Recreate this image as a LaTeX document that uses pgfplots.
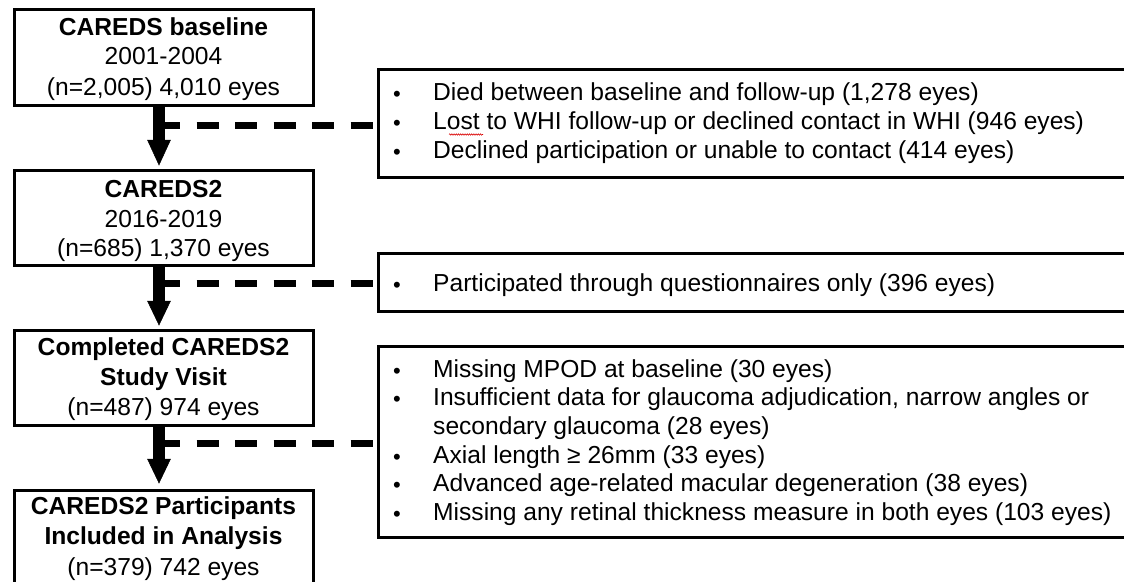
\documentclass[border=0pt]{standalone}
\usepackage{pgfplots}
\pgfplotsset{compat=1.18}
\usepackage{fontspec}
\setmainfont{Liberation Sans}
\usetikzlibrary{decorations.pathmorphing}
\begin{document}
\begin{tikzpicture}
\begin{axis}[width=1124bp, height=581bp, scale only axis,
  xmin=0, xmax=1124, ymin=0, ymax=581, y dir=reverse,
  hide axis, clip=true]
% left boxes
\addplot[black, line width=3bp, line join=miter] coordinates {(14,10) (313,10) (313,105) (14,105)} -- cycle;
\addplot[black, line width=3bp, line join=miter] coordinates {(14,170) (313,170) (313,265) (14,265)} -- cycle;
\addplot[black, line width=3bp, line join=miter] coordinates {(14,330) (313,330) (313,425) (14,425)} -- cycle;
\addplot[black, line width=3bp, line join=miter] coordinates {(14,590) (14,490) (313,490) (313,590)};
% right boxes (cut by the right edge)
\addplot[black, line width=3bp, line join=miter] coordinates {(1130,70) (378,70) (378,177) (1130,177)};
\addplot[black, line width=3bp, line join=miter] coordinates {(1130,253) (378,253) (378,311) (1130,311)};
\addplot[black, line width=3bp, line join=miter] coordinates {(1130,346) (378,346) (378,537) (1130,537)};
% arrows
\addplot[black, line width=12bp] coordinates {(159,105) (159,141)};
\addplot[black, fill=black, line width=0.5bp] coordinates {(147.5,140) (170.5,140) (159,165)} -- cycle;
\addplot[black, line width=12bp] coordinates {(159,265) (159,302)};
\addplot[black, fill=black, line width=0.5bp] coordinates {(147.5,301) (170.5,301) (159,325)} -- cycle;
\addplot[black, line width=12bp] coordinates {(159,425) (159,460)};
\addplot[black, fill=black, line width=0.5bp] coordinates {(147.5,459) (170.5,459) (159,483)} -- cycle;
% dashed connectors
\addplot[black, line width=7bp, dash pattern=on 22bp off 16.5bp] coordinates {(158,125) (372.5,125)};
\addplot[black, line width=7bp, dash pattern=on 22bp off 16.5bp] coordinates {(158,283) (372.5,283)};
\addplot[black, line width=7bp, dash pattern=on 22bp off 16.5bp] coordinates {(158,443) (372.5,443)};
% left texts
\begin{scope}[every node/.style={anchor=base, inner sep=0pt, font=\fontsize{24.6bp}{29.5bp}\selectfont}]
\node[font=\fontsize{24.6bp}{29.5bp}\selectfont\bfseries] at (axis cs:163.5,36) {CAREDS baseline};
\node at (axis cs:163.5,65) {2001-2004};
\node at (axis cs:163.5,95) {(n=2,005) 4,010 eyes};
\node[font=\fontsize{24.6bp}{29.5bp}\selectfont\bfseries] at (axis cs:163.5,197) {CAREDS2};
\node at (axis cs:163.5,227) {2016-2019};
\node at (axis cs:163.5,256) {(n=685) 1,370 eyes};
\node[font=\fontsize{24.6bp}{29.5bp}\selectfont\bfseries] at (axis cs:163.5,355) {Completed CAREDS2};
\node[font=\fontsize{24.6bp}{29.5bp}\selectfont\bfseries] at (axis cs:163.5,385) {Study Visit};
\node at (axis cs:163.5,415) {(n=487) 974 eyes};
\node[font=\fontsize{24.6bp}{29.5bp}\selectfont\bfseries] at (axis cs:163.5,514) {CAREDS2 Participants};
\node[font=\fontsize{24.6bp}{29.5bp}\selectfont\bfseries] at (axis cs:163.5,544) {Included in Analysis};
\node at (axis cs:163.5,575) {(n=379) 742 eyes};
\end{scope}
% right texts
\begin{scope}[every node/.style={anchor=base west, inner sep=0pt, font=\fontsize{24.6bp}{29.5bp}\selectfont}]
\node at (axis cs:433,100) {Died between baseline and follow-up (1,278 eyes)};
\node at (axis cs:433,129) {Lost to WHI follow-up or declined contact in WHI (946 eyes)};
\node at (axis cs:433,158) {Declined participation or unable to contact (414 eyes)};
\node at (axis cs:433,291) {Participated through questionnaires only (396 eyes)};
\node at (axis cs:433,377) {Missing MPOD at baseline (30 eyes)};
\node at (axis cs:433,405.5) {Insufficient data for glaucoma adjudication, narrow angles or};
\node at (axis cs:433,434) {secondary glaucoma (28 eyes)};
\node at (axis cs:433,463) {Axial length ≥ 26mm (33 eyes)};
\node at (axis cs:433,491.5) {Advanced age-related macular degeneration (38 eyes)};
\node at (axis cs:433,520) {Missing any retinal thickness measure in both eyes (103 eyes)};
\end{scope}
\begin{scope}[every node/.style={anchor=base, inner sep=0pt, font=\fontsize{22bp}{24bp}\selectfont}]
\node at (axis cs:397,101) {•};
\node at (axis cs:397,130) {•};
\node at (axis cs:397,159) {•};
\node at (axis cs:397,292) {•};
\node at (axis cs:397,378) {•};
\node at (axis cs:397,406.5) {•};
\node at (axis cs:397,464) {•};
\node at (axis cs:397,492.5) {•};
\node at (axis cs:397,521) {•};
\end{scope}
\draw[red!85!black, line width=0.6bp, decorate, decoration={snake, amplitude=0.7bp, segment length=2.2bp}] (axis cs:449,134.5) -- (axis cs:483,134.5);
\end{axis}
\pgfresetboundingbox
\useasboundingbox (current axis.south west) rectangle (current axis.north east);
\end{tikzpicture}
\end{document}
